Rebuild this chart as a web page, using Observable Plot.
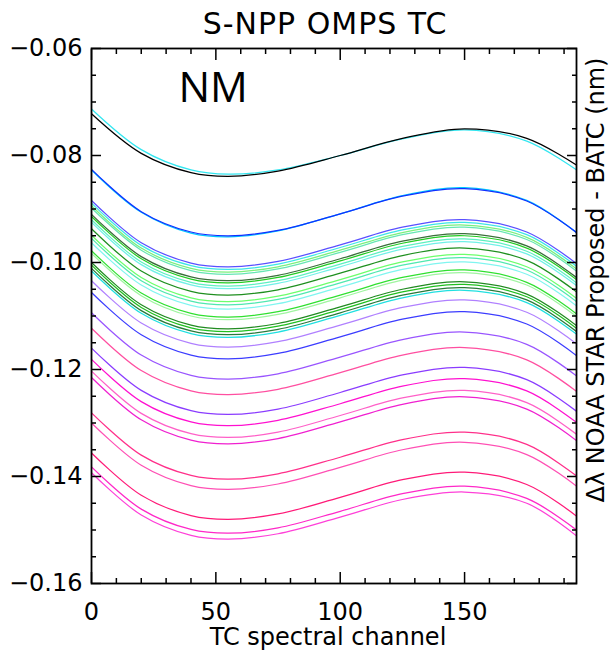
<!DOCTYPE html>
<html>
<head>
<meta charset="utf-8">
<script src="https://cdn.jsdelivr.net/npm/d3@7"></script>
<script src="https://cdn.jsdelivr.net/npm/@observablehq/plot@0.6"></script>
<style>
  html, body { margin: 0; padding: 0; background: #fff; }
</style>
</head>
<body>
<div id="chart"></div>
<script>
// ---- data ----
const titleText = "S-NPP OMPS TC";
const xLabelText = "TC spectral channel";
const yLabelText = "Δλ NOAA STAR Proposed - BATC (nm)";
const panelLabel = "NM";

const xMajorTicks = [0, 50, 100, 150];
const yMajorTicks = [-0.16, -0.14, -0.12, -0.10, -0.08, -0.06];

// sampled TC spectral channels
const channels = [0, 20, 40, 55, 75, 100, 125, 150, 175, 195];

const lineColors = [
  "#33e6f0", "#000000", "#00c8ff", "#1030ff", "#5a50ff",
  "#3ce6e6", "#7cf07c", "#66e6b4", "#3a6e3a", "#22cc22",
  "#5ef0c0", "#70f0e8", "#1f8f1f", "#6cff6c", "#50e8b0",
  "#80f5f0", "#30e030", "#a0f5a0", "#228b22", "#20c020",
  "#2a7a3a", "#20e0e0", "#b080ff", "#3c3cff", "#9955ff",
  "#ff4fa0", "#8a3cff", "#ff10d0", "#ff60c8", "#f020d0",
  "#ff2f8a", "#ff50b4", "#ff1a78", "#ff28c8", "#ff40d8"
];

const lineValues = [
  [-0.0713, -0.0789, -0.0827, -0.0835, -0.0827, -0.0800, -0.0769, -0.0752, -0.0773, -0.0827],
  [-0.0722, -0.0796, -0.0832, -0.0839, -0.0829, -0.0800, -0.0768, -0.0750, -0.0768, -0.0818],
  [-0.0827, -0.0906, -0.0945, -0.0952, -0.0941, -0.0909, -0.0875, -0.0860, -0.0884, -0.0944],
  [-0.0826, -0.0905, -0.0943, -0.0950, -0.0940, -0.0909, -0.0876, -0.0862, -0.0885, -0.0944],
  [-0.0884, -0.0963, -0.1001, -0.1008, -0.0998, -0.0967, -0.0934, -0.0920, -0.0943, -0.1002],
  [-0.0889, -0.0968, -0.1006, -0.1013, -0.1003, -0.0972, -0.0939, -0.0925, -0.0948, -0.1007],
  [-0.0894, -0.0973, -0.1011, -0.1018, -0.1008, -0.0977, -0.0944, -0.0930, -0.0953, -0.1012],
  [-0.0898, -0.0977, -0.1015, -0.1022, -0.1012, -0.0981, -0.0948, -0.0934, -0.0957, -0.1016],
  [-0.0910, -0.0989, -0.1027, -0.1034, -0.1024, -0.0993, -0.0960, -0.0946, -0.0969, -0.1028],
  [-0.0914, -0.0993, -0.1031, -0.1038, -0.1028, -0.0997, -0.0964, -0.0950, -0.0973, -0.1032],
  [-0.0920, -0.0999, -0.1037, -0.1044, -0.1034, -0.1003, -0.0970, -0.0956, -0.0979, -0.1038],
  [-0.0925, -0.1004, -0.1042, -0.1049, -0.1039, -0.1008, -0.0975, -0.0961, -0.0984, -0.1043],
  [-0.0937, -0.1016, -0.1054, -0.1061, -0.1051, -0.1020, -0.0987, -0.0973, -0.0996, -0.1055],
  [-0.0949, -0.1028, -0.1066, -0.1073, -0.1063, -0.1032, -0.0999, -0.0985, -0.1008, -0.1067],
  [-0.0955, -0.1034, -0.1072, -0.1079, -0.1069, -0.1038, -0.1005, -0.0991, -0.1014, -0.1073],
  [-0.0963, -0.1042, -0.1080, -0.1087, -0.1077, -0.1046, -0.1013, -0.0999, -0.1022, -0.1081],
  [-0.0978, -0.1057, -0.1095, -0.1102, -0.1092, -0.1061, -0.1028, -0.1014, -0.1037, -0.1096],
  [-0.0983, -0.1062, -0.1100, -0.1107, -0.1097, -0.1066, -0.1033, -0.1019, -0.1042, -0.1101],
  [-0.1000, -0.1079, -0.1117, -0.1124, -0.1114, -0.1083, -0.1050, -0.1036, -0.1059, -0.1118],
  [-0.1005, -0.1084, -0.1122, -0.1129, -0.1119, -0.1088, -0.1055, -0.1041, -0.1064, -0.1123],
  [-0.1011, -0.1090, -0.1128, -0.1135, -0.1125, -0.1094, -0.1061, -0.1047, -0.1070, -0.1129],
  [-0.1016, -0.1095, -0.1133, -0.1140, -0.1130, -0.1099, -0.1066, -0.1052, -0.1075, -0.1134],
  [-0.1034, -0.1113, -0.1151, -0.1158, -0.1148, -0.1117, -0.1084, -0.1070, -0.1093, -0.1152],
  [-0.1056, -0.1135, -0.1173, -0.1180, -0.1170, -0.1139, -0.1106, -0.1092, -0.1115, -0.1174],
  [-0.1094, -0.1173, -0.1211, -0.1218, -0.1208, -0.1177, -0.1144, -0.1130, -0.1153, -0.1212],
  [-0.1123, -0.1202, -0.1240, -0.1247, -0.1237, -0.1206, -0.1173, -0.1159, -0.1182, -0.1241],
  [-0.1160, -0.1239, -0.1277, -0.1284, -0.1274, -0.1243, -0.1210, -0.1196, -0.1219, -0.1278],
  [-0.1181, -0.1260, -0.1298, -0.1305, -0.1295, -0.1264, -0.1231, -0.1217, -0.1240, -0.1299],
  [-0.1203, -0.1282, -0.1320, -0.1327, -0.1317, -0.1286, -0.1253, -0.1239, -0.1262, -0.1321],
  [-0.1215, -0.1294, -0.1332, -0.1339, -0.1329, -0.1298, -0.1265, -0.1251, -0.1274, -0.1333],
  [-0.1281, -0.1360, -0.1398, -0.1405, -0.1395, -0.1364, -0.1331, -0.1317, -0.1340, -0.1399],
  [-0.1300, -0.1379, -0.1417, -0.1424, -0.1414, -0.1383, -0.1350, -0.1336, -0.1359, -0.1418],
  [-0.1356, -0.1435, -0.1473, -0.1480, -0.1470, -0.1439, -0.1406, -0.1392, -0.1415, -0.1474],
  [-0.1382, -0.1461, -0.1499, -0.1506, -0.1496, -0.1465, -0.1432, -0.1418, -0.1441, -0.1500],
  [-0.1393, -0.1472, -0.1510, -0.1517, -0.1507, -0.1476, -0.1443, -0.1429, -0.1450, -0.1511]
];

// ---- build table ----
const rows = lineValues.flatMap((vals, id) =>
  vals.map((v, j) => ({ch: channels[j], v, id, color: lineColors[id]}))
);

const xMinorTicks = d3.range(0, 195, 10).filter(t => !xMajorTicks.includes(t));
const yMinorTicks = d3.range(-0.155, -0.06, 0.005)
  .map(t => +t.toFixed(3))
  .filter(t => !yMajorTicks.some(m => Math.abs(m - t) < 1e-9));

const font = "DejaVu Sans";
const tickW = 1.5;

const chart = Plot.plot({
  width: 611,
  height: 656,
  marginLeft: 91,
  marginRight: 35,
  marginTop: 48,
  marginBottom: 73,
  style: {fontFamily: font, fontSize: "24px", background: "#fff", color: "#000"},
  x: {domain: [0, 195]},
  y: {domain: [-0.16, -0.06]},
  color: {type: "identity"},
  marks: [
    Plot.line(rows, {x: "ch", y: "v", z: "id", stroke: "color", curve: "catmull-rom", strokeWidth: 1.25, clip: true}),
    Plot.frame({stroke: "#000", strokeWidth: 1.8}),
    // bottom axis
    Plot.axisX(xMajorTicks, {anchor: "bottom", tickSize: -11, fill: "none", label: null, strokeWidth: tickW}),
    Plot.axisX(xMinorTicks, {anchor: "bottom", tickSize: -5, fill: "none", label: null, strokeWidth: tickW}),
    Plot.axisX(xMajorTicks, {anchor: "bottom", tickSize: 0, tickPadding: 19, fontSize: 24, label: null, tickFormat: d3.format("d")}),
    // top axis
    Plot.axisX(xMajorTicks, {anchor: "top", tickSize: -11, fill: "none", label: null, strokeWidth: tickW}),
    Plot.axisX(xMinorTicks, {anchor: "top", tickSize: -5, fill: "none", label: null, strokeWidth: tickW}),
    // left axis
    Plot.axisY(yMajorTicks, {anchor: "left", tickSize: -10, fill: "none", label: null, strokeWidth: tickW}),
    Plot.axisY(yMinorTicks, {anchor: "left", tickSize: -5, fill: "none", label: null, strokeWidth: tickW}),
    Plot.axisY(yMajorTicks, {anchor: "left", tickSize: 0, tickPadding: 9, fontSize: 24, label: null, tickFormat: d3.format(".2f")}),
    // right axis
    Plot.axisY(yMajorTicks, {anchor: "right", tickSize: -10, fill: "none", label: null, strokeWidth: tickW}),
    Plot.axisY(yMinorTicks, {anchor: "right", tickSize: -5, fill: "none", label: null, strokeWidth: tickW}),
    // texts
    Plot.text([titleText], {text: d => d, frameAnchor: "top", textAnchor: "middle", lineAnchor: "middle", dy: -24, dx: -9, fontSize: 30, fill: "#000"}),
    Plot.text([xLabelText], {text: d => d, frameAnchor: "bottom", textAnchor: "middle", lineAnchor: "middle", dy: 54, dx: -6, fontSize: 24, fill: "#000"}),
    Plot.text([yLabelText], {text: d => d, frameAnchor: "right", textAnchor: "middle", lineAnchor: "middle", rotate: -90, dx: 20, dy: -36, fontSize: 24, fill: "#000"}),
    Plot.text([panelLabel], {text: d => d, frameAnchor: "top-left", textAnchor: "start", lineAnchor: "middle", dx: 87, dy: 40, fontSize: 42, fontFamily: "Open Sans", fill: "#000"})
  ]
});

// Hershey-like wide spacing for the title
d3.select(chart).selectAll("text")
  .filter(function () { return this.textContent === titleText; })
  .attr("letter-spacing", "1px");

document.getElementById("chart").appendChild(chart);
</script>
</body>
</html>
